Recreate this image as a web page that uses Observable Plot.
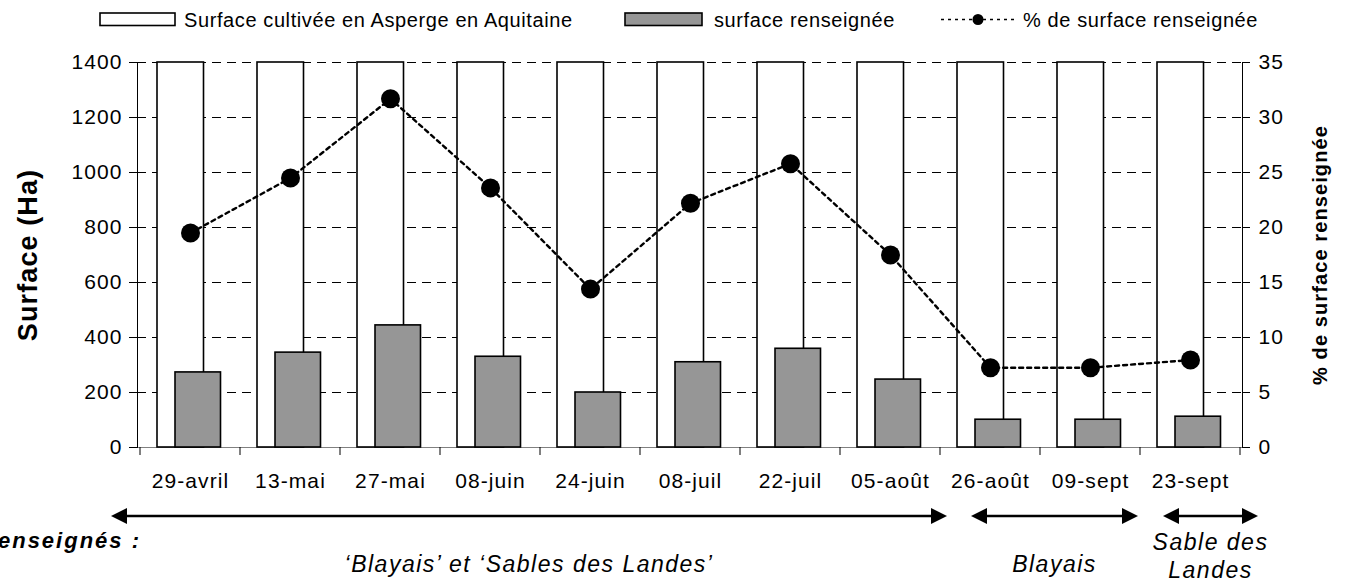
<!DOCTYPE html>
<html>
<head>
<meta charset="utf-8">
<script src="https://cdn.jsdelivr.net/npm/d3@7"></script>
<script src="https://cdn.jsdelivr.net/npm/@observablehq/plot@0.6"></script>
<style>
  html, body { margin: 0; padding: 0; background: #fff; overflow: hidden; }
  #wrap { width: 1346px; height: 583px; position: relative; font-family: "Liberation Sans", Arial, sans-serif; color: #000; }
  #legend { position: relative; width: 1346px; height: 40px; }
  .lg-text { position: absolute; top: 10.4px; font-size: 20px; line-height: 20px; letter-spacing: 0.6px; white-space: nowrap; }
  .lg-swatch { position: absolute; top: 0; }
  #chart svg text { letter-spacing: 1.1px; }
</style>
</head>
<body>
<div id="wrap">
  <div id="legend"></div>
  <div id="chart"></div>
</div>
<script>
// ---------- data ----------
const dates = ["29-avril", "13-mai", "27-mai", "08-juin", "24-juin", "08-juil", "22-juil", "05-août", "26-août", "09-sept", "23-sept"];
const surfaceCultivee = [1400, 1400, 1400, 1400, 1400, 1400, 1400, 1400, 1400, 1400, 1400];
const surfaceRenseignee = [273, 345, 444, 330, 200, 310, 359, 247, 101, 101, 112];
const pctRenseignee = [19.5, 24.5, 31.7, 23.6, 14.4, 22.2, 25.8, 17.5, 7.25, 7.25, 7.95];
const surfaceTicks = [0, 200, 400, 600, 800, 1000, 1200, 1400];
const surfaceMax = 1400;
const pctMax = 35;
const legendLabels = ["Surface cultivée en Asperge en Aquitaine", "surface renseignée", "% de surface renseignée"];
const yTitle = "Surface (Ha)";
const y2Title = "% de surface renseignée";
const zonesTitle = "enseignés :";
const zoneLabels = [["‘Blayais’ et ‘Sables des Landes’"], ["Blayais"], ["Sable des", "Landes"]];
const zoneFrom = ["29-avril", "26-août", "23-sept"];
const zoneTo = ["05-août", "09-sept", "23-sept"];

const ratio = surfaceMax / pctMax;
const data = dates.map((d, i) => ({date: d, total: surfaceCultivee[i], rens: surfaceRenseignee[i], pct: pctRenseignee[i]}));
const FONT = "'Liberation Sans', Arial, sans-serif";

// ---------- legend (HTML) ----------
const legend = d3.select("#legend");
function swatch(left, width, draw) {
  const s = legend.append("svg").attr("class", "lg-swatch").attr("width", width).attr("height", 40).style("left", left + "px");
  draw(s);
}
swatch(99, 78, s => s.append("rect").attr("x", 1).attr("y", 13).attr("width", 75).attr("height", 12.5).attr("fill", "white").attr("stroke", "black").attr("stroke-width", 1.6));
legend.append("span").attr("class", "lg-text").style("left", "184px").text(legendLabels[0]);
swatch(624, 80, s => s.append("rect").attr("x", 1).attr("y", 13).attr("width", 77).attr("height", 12.5).attr("fill", "#969696").attr("stroke", "black").attr("stroke-width", 1.6));
legend.append("span").attr("class", "lg-text").style("left", "714px").text(legendLabels[1]);
swatch(940, 80, s => {
  s.append("line").attr("x1", 1).attr("x2", 76).attr("y1", 19.5).attr("y2", 19.5).attr("stroke", "black").attr("stroke-width", 1.6).attr("stroke-dasharray", "3,4");
  s.append("circle").attr("cx", 38).attr("cy", 19.5).attr("r", 5.5).attr("fill", "black");
});
legend.append("span").attr("class", "lg-text").style("left", "1023px").text(legendLabels[2]);

// ---------- custom marks ----------
function boundaryTicks(index, {x}, values, {height, marginBottom}) {
  const bw = x.bandwidth();
  const y0 = height - marginBottom;
  const edges = dates.map(d => x(d)).concat([x(dates[dates.length - 1]) + bw]);
  const g = d3.create("svg:g").attr("stroke", "black").attr("stroke-width", 1);
  for (const e of edges) g.append("line").attr("x1", e).attr("x2", e).attr("y1", y0).attr("y2", y0 + 8);
  return g.node();
}

function zones(index, {x}, values, {height, marginBottom}) {
  const bw = x.bandwidth();
  const y0 = height - marginBottom;
  const ay = y0 + 69;
  const pads = [[-29, 7], [31, -2], [23, 18]];
  const g = d3.create("svg:g").attr("font-family", FONT).attr("fill", "black");
  const head = (tip, dir) => {
    const L = 16, H = 8;
    g.append("path").attr("d", `M${tip},${ay} L${tip - dir * L},${ay - H} L${tip - dir * L},${ay + H} Z`).attr("fill", "black");
  };
  zoneFrom.forEach((from, i) => {
    const a = x(from) + pads[i][0];
    const b = x(zoneTo[i]) + bw + pads[i][1];
    g.append("line").attr("x1", a + 10).attr("x2", b - 10).attr("y1", ay).attr("y2", ay).attr("stroke", "black").attr("stroke-width", 2.5);
    head(a, -1); head(b, 1);
    const cx = (a + b) / 2;
    const lines = zoneLabels[i];
    const baselines = lines.length === 1 ? [y0 + 125] : [y0 + 103, y0 + 131];
    lines.forEach((t, j) => {
      g.append("text").attr("x", cx).attr("y", baselines[j]).attr("text-anchor", "middle")
        .attr("font-size", 23).attr("font-style", "italic").style("letter-spacing", "1.5px").text(t);
    });
  });
  g.append("text").attr("x", x(dates[0]) + 1).attr("y", y0 + 101).attr("text-anchor", "end")
    .attr("font-size", 22).attr("font-style", "italic").attr("font-weight", "bold").style("letter-spacing", "2px").text(zonesTitle);
  return g.node();
}

// ---------- chart ----------
const chart = Plot.plot({
  width: 1346,
  height: 543,
  marginTop: 22,
  marginBottom: 136,
  marginLeft: 137,
  marginRight: 104,
  style: {fontFamily: FONT, fontSize: "21px", color: "black", background: "white", overflow: "visible"},
  x: {type: "band", domain: dates, paddingInner: 0, paddingOuter: 0, label: null},
  y: {domain: [0, surfaceMax], label: null},
  marks: [
    Plot.ruleY(surfaceTicks.filter(t => t > 0), {stroke: "black", strokeWidth: 1, strokeDasharray: "9,6"}),
    Plot.ruleY([0], {stroke: "#808080", strokeWidth: 1.2}),
    Plot.barY(data, {x: "date", y: "total", fill: "white", stroke: "black", strokeWidth: 1.6, insetLeft: 17, insetRight: 36.5}),
    Plot.barY(data, {x: "date", y: "rens", fill: "#969696", stroke: "black", strokeWidth: 1.6, insetLeft: 35, insetRight: 19.5}),
    Plot.line(data, {x: "date", y: d => d.pct * ratio, stroke: "black", strokeWidth: 2.4, strokeDasharray: "4,4"}),
    Plot.dot(data, {x: "date", y: d => d.pct * ratio, r: 9.5, fill: "black"}),
    Plot.frame({anchor: "left", stroke: "black"}),
    Plot.frame({anchor: "right", stroke: "black"}),
    Plot.axisY(surfaceTicks, {anchor: "left", tickSize: 8, tickPadding: 7, fontSize: 21, label: null, tickFormat: d => String(d)}),
    Plot.axisY(surfaceTicks, {anchor: "right", tickSize: 7, tickPadding: 9, fontSize: 21, label: null, tickFormat: d => String(d / ratio)}),
    Plot.axisX({tickSize: 0, tickPadding: 26, fontSize: 21, label: null}),
    boundaryTicks,
    Plot.text([yTitle], {text: d => d, frameAnchor: "left", textAnchor: "middle", lineAnchor: "middle", rotate: -90, dx: -109, fontSize: 27, fontWeight: "bold"}),
    Plot.text([y2Title], {text: d => d, frameAnchor: "right", textAnchor: "middle", lineAnchor: "middle", rotate: -90, dx: 78, fontSize: 20, fontWeight: "bold"}),
    zones
  ]
});
document.getElementById("chart").appendChild(chart);
</script>
</body>
</html>
